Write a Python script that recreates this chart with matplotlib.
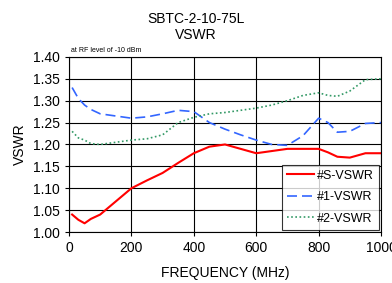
import matplotlib
matplotlib.use("Agg")
import matplotlib.pyplot as plt

plt.rcParams['font.family'] = ['Liberation Sans', 'DejaVu Sans']

freq = [10, 30, 50, 70, 100, 150, 200, 250, 300, 350, 400, 450, 500, 550, 600,
        650, 700, 750, 800, 830, 860, 900, 950, 1000]
s_vswr = [1.04, 1.028, 1.02, 1.03, 1.04, 1.07, 1.10, 1.118, 1.135, 1.158, 1.18, 1.195, 1.20, 1.19, 1.18,
          1.185, 1.19, 1.19, 1.19, 1.182, 1.172, 1.17, 1.18, 1.18]
p1_vswr = [1.33, 1.305, 1.29, 1.28, 1.27, 1.265, 1.26, 1.263, 1.27, 1.278, 1.275, 1.25, 1.235, 1.222, 1.21,
           1.20, 1.198, 1.22, 1.26, 1.25, 1.228, 1.23, 1.248, 1.25]
p2_vswr = [1.23, 1.215, 1.21, 1.202, 1.20, 1.205, 1.21, 1.213, 1.222, 1.25, 1.262, 1.27, 1.273, 1.278, 1.283,
           1.29, 1.30, 1.312, 1.318, 1.312, 1.31, 1.322, 1.348, 1.35]

fig = plt.figure(figsize=(3.92, 2.83), dpi=100)
ax = fig.add_axes([0.176, 0.180, 0.796, 0.619])

ax.plot(freq, s_vswr, color='#ff0000', lw=1.5, label='#S-VSWR')
ax.plot(freq, p1_vswr, color='#3366ff', lw=1.2, ls=(0, (6, 3)), label='#1-VSWR')
ax.plot(freq, p2_vswr, color='#339966', lw=1.2, ls=(0, (1, 1.5)), label='#2-VSWR')

ax.set_xlim(0, 1000)
ax.set_ylim(1.0, 1.4)
ax.set_xticks([0, 200, 400, 600, 800, 1000])
ax.set_yticks([1.0, 1.05, 1.1, 1.15, 1.2, 1.25, 1.3, 1.35, 1.4])
ax.set_yticklabels(['%.2f' % v for v in ax.get_yticks()])
ax.grid(True, color='black', lw=0.8)
ax.tick_params(labelsize=10, length=3, direction='out', color='black')
for sp in ax.spines.values():
    sp.set_color('black')
    sp.set_linewidth(0.8)

ax.set_xlabel('FREQUENCY (MHz)', fontsize=10, labelpad=8)
ax.set_ylabel('VSWR', fontsize=10, labelpad=4)
fig.text(0.5, 0.905, 'SBTC-2-10-75L\nVSWR', ha='center', va='center', fontsize=10, linespacing=1.15)
ax.text(0.005, 1.015, 'at RF level of -10 dBm', transform=ax.transAxes, fontsize=5, ha='left', va='bottom')

leg = ax.legend(loc='lower right', fontsize=9, frameon=True, fancybox=False,
                borderpad=0.4, labelspacing=0.75, handlelength=2.2, handletextpad=0.2,
                borderaxespad=0.2)
leg.get_frame().set_edgecolor('black')
leg.get_frame().set_linewidth(0.8)

fig.savefig('out.png', dpi=100)
